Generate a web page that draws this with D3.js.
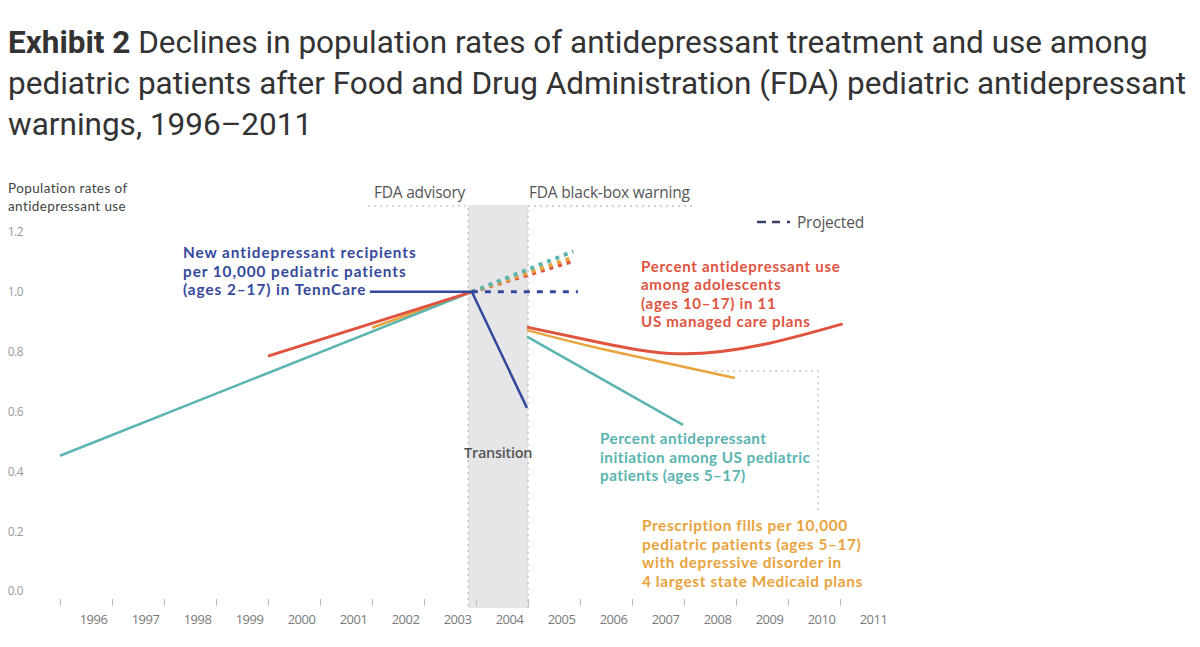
<!DOCTYPE html>
<html>
<head>
<meta charset="utf-8">
<script src="https://cdn.jsdelivr.net/npm/d3@7"></script>
<style>
  body { margin: 0; background: #fff; }
  svg text { font-family: "Open Sans", sans-serif; }
</style>
</head>
<body>
<script>
// ---- data (x in fractional years) ----
const years = d3.range(1996, 2012);
const yTicks = [0, 0.2, 0.4, 0.6, 0.8, 1.0, 1.2];
const advisoryYear = 2003.85;
const blackBoxYear = 2005.0;

const tealBefore = [[1996.0, 0.452], [2003.92, 1.0]];
const tealAfter = [[2004.98, 0.85], [2007.98, 0.555]];
const tealProjected = [[2003.92, 1.0], [2005.87, 1.135]];

const redBefore = [[2000.0, 0.785], [2003.92, 1.0]];
const redAfter = [[2004.98, 0.882], [2006.4, 0.83], [2007.9, 0.793], [2009.5, 0.823], [2011.05, 0.893]];
const redProjected = [[2003.92, 1.0], [2005.87, 1.103]];

const orangeBefore = [[2002.0, 0.88], [2003.92, 1.0]];
const orangeAfter = [[2004.98, 0.872], [2006.4, 0.81], [2008.98, 0.712]];
const orangeProjected = [[2003.92, 1.0], [2005.87, 1.115]];

const blueBefore = [[2001.96, 1.0], [2003.92, 1.0], [2004.98, 0.612]];
const blueProjected = [[2003.92, 1.0], [2005.96, 1.0]];

const colors = { teal: '#5ab4b0', red: '#e0543f', orange: '#e9a33e', blue: '#35499c' };

const width = 1200, height = 647;
const labelFont = 'Lato, "Open Sans", sans-serif';

const xScale = d3.scaleLinear().domain([1996, 2012]).range([60, 892]);
const yScale = d3.scaleLinear().domain([0, 1.2]).range([591, 232]);

const svg = d3.select('body').append('svg')
  .attr('width', width).attr('height', height);

// ---- title ----
const titleLines = [
  ['Exhibit 2', ' Declines in population rates of antidepressant treatment and use among'],
  ['', 'pediatric patients after Food and Drug Administration (FDA) pediatric antidepressant'],
  ['', 'warnings, 1996\u20132011']
];
const title = svg.append('text')
  .attr('x', 8).attr('y', 52)
  .style('font-family', 'Roboto, sans-serif')
  .attr('font-size', 31.5)
  .attr('fill', '#333');
titleLines.forEach(function(l, i) {
  const t = title.append('tspan').attr('x', 8).attr('y', 53 + i * 41);
  if (l[0]) t.append('tspan').attr('font-weight', 'bold').text(l[0]);
  t.append('tspan').text(l[1]);
});

// ---- transition band ----
svg.append('rect')
  .attr('x', xScale(advisoryYear))
  .attr('y', 205)
  .attr('width', xScale(blackBoxYear) - xScale(advisoryYear))
  .attr('height', 608 - 205)
  .attr('fill', '#e6e6e8');

const dotted = svg.append('g')
  .attr('stroke', '#c4c4c4')
  .attr('stroke-width', 1.5)
  .attr('stroke-dasharray', '2,4')
  .attr('fill', 'none');

dotted.append('path').attr('d', `M${xScale(advisoryYear) - 100},206H${xScale(advisoryYear)}V608`);
dotted.append('path').attr('d', `M${xScale(blackBoxYear) + 164},206H${xScale(blackBoxYear)}V608`);
// leader to prescription-fills label
dotted.append('path').attr('d', `M${xScale(2008.6)},371H818V514`);

svg.append('text')
  .attr('x', xScale(advisoryYear) - 3).attr('y', 198)
  .attr('text-anchor', 'end')
  .attr('font-size', 15.5).attr('fill', '#555').attr('letter-spacing', -0.2)
  .text('FDA advisory');
svg.append('text')
  .attr('x', xScale(blackBoxYear) + 1).attr('y', 198)
  .attr('font-size', 15.5).attr('fill', '#555').attr('letter-spacing', -0.2)
  .text('FDA black-box warning');
svg.append('text')
  .attr('x', (xScale(advisoryYear) + xScale(blackBoxYear)) / 2).attr('y', 458)
  .attr('text-anchor', 'middle')
  .attr('font-size', 14.5).attr('font-weight', 600).attr('fill', '#555').attr('letter-spacing', -0.3)
  .text('Transition');

// ---- axes ----
const yAxis = d3.axisLeft(yScale).tickValues(yTicks).tickFormat(d3.format('.1f')).tickSize(0).tickPadding(2);
const gy = svg.append('g').attr('transform', 'translate(25,0)').call(yAxis);
gy.select('.domain').remove();
gy.selectAll('text').attr('font-size', 12).attr('fill', '#9a9a9a').style('font-family', '"Open Sans", sans-serif')
  .attr('letter-spacing', -0.5);

const xAxis = d3.axisBottom(xScale).tickValues(years).tickFormat(d3.format('d')).tickSize(7).tickPadding(9);
const gx = svg.append('g').attr('transform', 'translate(0,599)').call(xAxis);
gx.select('.domain').remove();
gx.selectAll('line').attr('stroke', '#bdbdbd');
gx.selectAll('text')
  .attr('dx', 33)
  .attr('font-size', 13).attr('fill', '#7a7a7a')
  .style('font-family', '"Open Sans", sans-serif')
  .attr('letter-spacing', -0.5);

svg.append('text')
  .attr('x', 8).attr('y', 193)
  .style('font-family', labelFont)
  .attr('font-size', 13.5).attr('fill', '#444').attr('letter-spacing', 0.4)
  .selectAll('tspan')
  .data(['Population rates of', 'antidepressant use'])
  .join('tspan')
  .attr('x', 8).attr('dy', (d, i) => i ? 17.5 : 0)
  .text(d => d);

// ---- lines ----
const line = d3.line().x(d => xScale(d[0])).y(d => yScale(d[1]));
const smooth = d3.line().x(d => xScale(d[0])).y(d => yScale(d[1])).curve(d3.curveNatural);

const marks = svg.append('g').attr('fill', 'none').attr('stroke-linecap', 'butt');

// projections
[[redProjected, colors.red], [orangeProjected, colors.orange], [tealProjected, colors.teal]].forEach(function(p) {
  marks.append('path')
    .attr('d', line(p[0]))
    .attr('stroke', p[1]).attr('stroke-width', 4).attr('stroke-dasharray', '4,5');
});
marks.append('path')
  .attr('d', line(blueProjected))
  .attr('stroke', colors.blue).attr('stroke-width', 3).attr('stroke-dasharray', '6,7');

// solid series
marks.append('path').attr('d', line(orangeBefore)).attr('stroke', colors.orange).attr('stroke-width', 2.5);
marks.append('path').attr('d', smooth(orangeAfter)).attr('stroke', colors.orange).attr('stroke-width', 2.5);
marks.append('path').attr('d', line(tealBefore)).attr('stroke', colors.teal).attr('stroke-width', 2.5);
marks.append('path').attr('d', line(tealAfter)).attr('stroke', colors.teal).attr('stroke-width', 2.5);
marks.append('path').attr('d', line(redBefore)).attr('stroke', colors.red).attr('stroke-width', 3);
marks.append('path').attr('d', smooth(redAfter)).attr('stroke', colors.red).attr('stroke-width', 3);
marks.append('path').attr('d', line(blueBefore)).attr('stroke', colors.blue).attr('stroke-width', 2.5);

// ---- series labels ----
function label(x, y, lines, color, lh, size, ls) {
  svg.append('text')
    .attr('x', x).attr('y', y)
    .style('font-family', labelFont)
    .attr('font-size', size).attr('font-weight', 'bold').attr('fill', color)
    .attr('letter-spacing', ls)
    .selectAll('tspan')
    .data(lines)
    .join('tspan')
    .attr('x', x).attr('dy', (d, i) => i ? lh : 0)
    .text(d => d);
}
label(183, 258, ['New antidepressant recipients', 'per 10,000 pediatric patients', '(ages 2\u201317) in TennCare'], colors.blue, 18.5, 15.3, 0.95);
label(641, 272, ['Percent antidepressant use', 'among adolescents', '(ages 10\u201317) in 11', 'US managed care plans'], colors.red, 18.3, 15.1, 0.7);
label(600, 444, ['Percent antidepressant', 'initiation among US pediatric', 'patients (ages 5\u201317)'], colors.teal, 18.6, 15.3, 0.45);
label(642, 531, ['Prescription fills per 10,000', 'pediatric patients (ages 5\u201317)', 'with depressive disorder in', '4 largest state Medicaid plans'], colors.orange, 18.7, 15.4, 0.6);

// ---- legend ----
const lg = svg.append('g').attr('transform', 'translate(757,222)');
lg.selectAll('line')
  .data([[0, 9], [15, 23], [30, 33]])
  .join('line')
  .attr('x1', d => d[0]).attr('x2', d => d[1])
  .attr('stroke', '#35406a').attr('stroke-width', 2.5);
lg.append('text')
  .attr('x', 40).attr('y', 5.5)
  .attr('font-size', 15.5).attr('fill', '#555').attr('letter-spacing', -0.2)
  .text('Projected');
</script>
</body>
</html>
